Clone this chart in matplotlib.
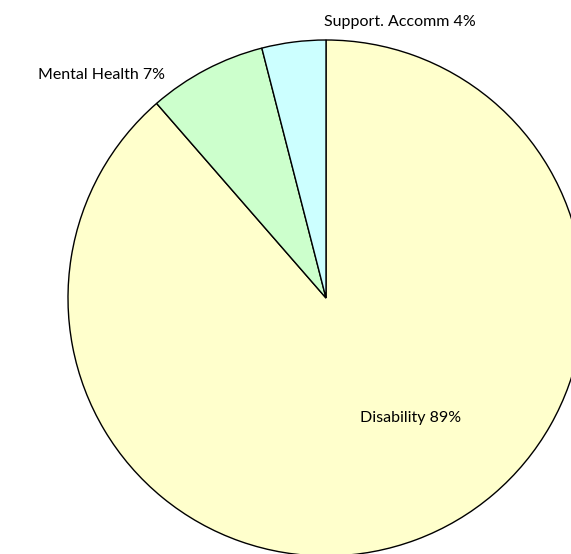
import matplotlib
matplotlib.use("Agg")
import matplotlib.pyplot as plt

categories = ["Disability", "Mental Health", "Support. Accomm"]
values = [88.6, 7.4, 4.0]
colors = ["#FFFFCC", "#CCFFCC", "#CCFFFF"]

W, H = 571, 554
fig = plt.figure(figsize=(W / 100, H / 100), dpi=100)
ax = fig.add_axes([0, 0, 1, 1])

cx, cy, r = 326, H - 298, 258
wedges, _ = ax.pie(values, colors=colors, startangle=90, counterclock=False,
                   center=(cx, cy), radius=r,
                   wedgeprops=dict(edgecolor="black", linewidth=1.0))
ax.set_xlim(0, W)
ax.set_ylim(0, H)
ax.set_aspect("equal")
ax.axis("off")

labels = [f"{c} {round(v)}%" for c, v in zip(categories, values)]
font = dict(family="Lato", fontsize=11.5, color="black")
ax.text(411, H - 418, labels[0], ha="center", va="center", **font)
ax.text(102, H - 75, labels[1], ha="center", va="center", **font)
ax.text(400, H - 22, labels[2], ha="center", va="center", **font)

fig.savefig("out.png", dpi=100)
